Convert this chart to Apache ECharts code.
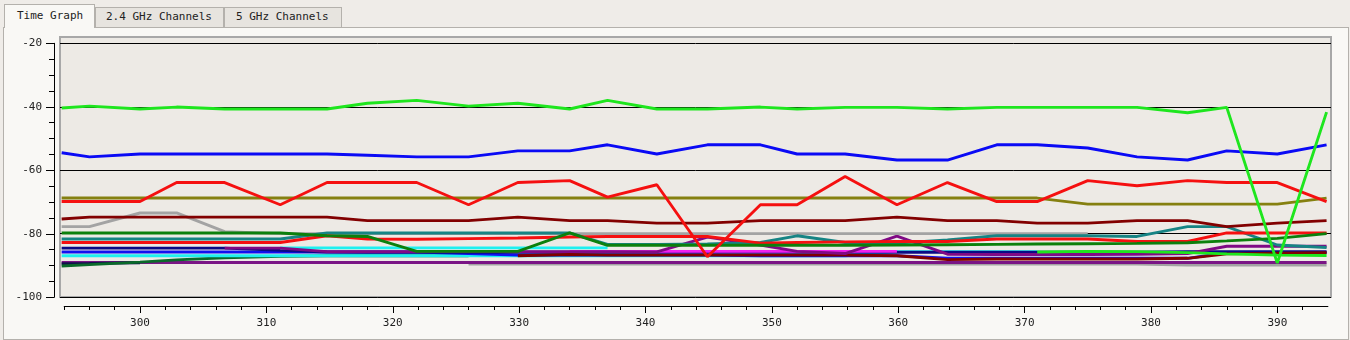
<!DOCTYPE html>
<html>
<head>
<meta charset="utf-8">
<script src="https://cdn.jsdelivr.net/npm/echarts@6/dist/echarts.min.js"></script>
<style>
  html, body { margin:0; padding:0; }
  body { width:1350px; height:340px; overflow:hidden; position:relative; background:#efece8; }
  #panel { position:absolute; left:3px; top:27px; width:1344px; height:311px; background:#f9f8f5; border:1px solid #b4b1ac; }
  .tab { position:absolute; box-sizing:border-box; font-family:"DejaVu Sans Mono", monospace; font-size:11px; color:#222; white-space:nowrap; border:1px solid #b4b1ac; }
  .tab.active { left:4px; top:4px; width:91px; height:24px; line-height:22px; padding-left:12px; background:#f9f8f5; border-bottom:none; z-index:2; }
  .tab.inactive { top:7px; height:20px; line-height:18px; background:#e7e4df; border-bottom:none; z-index:1; }
  #chart { position:absolute; left:0; top:0; width:1350px; height:340px; z-index:3; }
</style>
</head>
<body>
<div id="panel"></div>
<div class="tab active">Time Graph</div>
<div class="tab inactive" style="left:95px;width:129px;padding-left:10px;">2.4 GHz Channels</div>
<div class="tab inactive" style="left:224px;width:118px;padding-left:11px;">5 GHz Channels</div>
<div id="chart"></div>
<script>
// ---- data ----
const times = [293.8, 296.0, 300.0, 302.9, 306.7, 311.1, 314.8, 318.0, 321.9, 326.0, 329.9, 334.0, 337.0, 340.9, 344.9, 349.1, 352.0, 355.8, 359.9, 363.9, 367.8, 371.0, 375.0, 378.9, 382.9, 386.0, 390.0, 393.9];

const xTicks = [300, 310, 320, 330, 340, 350, 360, 370, 380, 390];
const yTicks = [-100, -80, -60, -40, -20];

const limeTop = [-40.4, -39.8, -40.7, -40.1, -40.7, -40.7, -40.7, -38.9, -38.0, -39.8, -38.9, -40.7, -38.0, -40.7, -40.7, -40.1, -40.7, -40.2, -40.2, -40.7, -40.2, -40.2, -40.2, -40.2, -41.9, -40.2, -89.3, -41.7];
const blueTop = [-54.5, -55.8, -54.9, -54.9, -54.9, -54.9, -54.9, -55.3, -55.8, -55.8, -53.9, -53.9, -52.0, -54.9, -52.0, -52.0, -54.9, -54.9, -56.8, -56.8, -52.0, -52.0, -53.0, -55.8, -56.8, -53.9, -54.9, -52.0];
const redTop = [-69.9, -69.9, -69.9, -63.9, -63.9, -70.9, -63.9, -63.9, -63.9, -70.9, -63.9, -63.3, -68.5, -64.6, -87.3, -70.9, -70.9, -62.0, -70.9, -63.9, -69.9, -69.9, -63.3, -64.9, -63.3, -63.9, -63.9, -69.9];
const olive = [-68.8, -68.8, -68.8, -68.8, -68.8, -68.8, -68.8, -68.8, -68.8, -68.8, -68.8, -68.8, -68.8, -68.8, -68.8, -68.8, -68.8, -68.8, -68.8, -68.8, -68.8, -68.8, -70.7, -70.7, -70.7, -70.7, -70.7, -68.8];
const maroon = [-75.4, -74.8, -74.8, -74.8, -74.8, -74.8, -74.8, -75.9, -75.9, -75.9, -74.8, -75.9, -75.9, -76.7, -76.7, -75.9, -75.9, -75.9, -74.8, -75.9, -75.9, -76.7, -76.7, -75.9, -75.9, -77.8, -76.7, -75.9];
const gray = [-77.8, -77.8, -73.5, -73.5, -79.4, -80.0, -80.0, -80.0, -80.0, -80.0, -80.0, -80.0, -80.0, -80.0, -80.0, -80.0, -80.0, -80.0, -80.0, -80.0, -80.0, -80.0, -80.0, null, null, null, null, null];
const green = [-79.8, -79.8, -79.8, -79.8, -79.8, -79.8, -80.7, -80.9, -85.6, -85.6, -85.6, -79.8, -83.7, -83.7, -83.7, -83.7, -83.7, -83.7, -83.6, -83.5, -83.4, -83.3, -83.2, -83.1, -82.9, -82.3, -81.5, -80.0];
const teal = [-81.7, -81.7, -81.7, -81.7, -81.7, -81.7, -79.8, -79.8, -79.8, -79.8, -79.8, -79.8, -83.4, -83.4, -83.3, -82.8, -80.7, -82.8, -83.0, -82.0, -80.7, -80.7, -80.7, -80.9, -77.8, -77.8, -83.6, -84.4];
const red2 = [-82.8, -82.8, -82.8, -82.8, -82.8, -82.8, -80.7, -81.7, -81.8, -81.6, -81.4, -81.1, -80.9, -80.9, -80.9, -83.0, -82.8, -82.6, -82.5, -82.5, -81.7, -81.7, -81.7, -82.5, -82.5, -79.8, -79.8, -79.8];
const navy = [-84.6, -84.6, -84.6, -84.6, -84.6, -85.3, -85.8, -85.9, -85.9, -85.9, -85.9, -85.9, -85.9, -85.9, -85.9, -85.9, -85.9, -85.9, -85.9, -85.9, -85.9, -85.9, -85.9, -85.9, -85.7, -85.7, -85.7, -85.7];
const blue2 = [-85.8, -85.8, -85.8, -85.8, -85.8, -85.8, -85.8, -85.8, -85.8, -86.3, -86.8, -86.8, -86.8, -86.8, -86.8, -87.0, -87.0, -87.0, -87.0, -87.8, -87.8, -87.8, -87.8, -87.8, -87.8, -86.0, -86.0, -86.0];
const cyan1 = [-87.0, -87.0, -87.0, -87.0, -87.0, -87.0, -87.0, -87.0, -87.0, -87.0, -87.0, -87.0, -87.0, -87.0, -87.0, -87.0, -87.0, -87.0, -85.7, -85.7, -85.7, -85.7, null, null, null, null, null, null];
const cyan2 = [null, null, null, null, null, -84.5, -84.5, -84.5, -84.5, -84.5, -84.5, -84.5, -84.5, null, null, null, null, null, null, null, null, null, null, null, null, null, null, null];
const magenta = [null, null, null, null, null, null, null, null, null, null, null, -85.6, -85.6, -85.6, -85.6, -85.6, -85.6, -85.6, -85.6, null, null, null, null, null, null, null, null, null];
const purpleMid = [null, null, null, null, -84.6, -84.6, -85.7, -85.7, -85.7, -85.7, -85.7, -85.7, -85.7, -85.8, -81.1, -83.6, -85.6, -86.3, -80.8, -86.5, -86.6, -86.6, -86.6, -86.5, -86.3, -84.0, -84.0, -84.0];
const purpleLow = [-89.1, -89.1, -89.1, -89.1, -89.1, -89.1, -89.1, -89.1, -89.1, -89.1, -89.1, -89.1, -89.1, -89.1, -89.1, -89.1, -89.1, -89.1, -89.1, -89.1, -89.1, -89.1, -89.1, -89.1, -89.1, -89.1, -89.1, -89.1];
const maroonLow = [null, null, null, null, null, null, null, null, null, null, -87.0, -86.6, -86.8, -86.8, -86.8, -86.8, -86.8, -86.8, -87.0, -88.2, -88.0, -88.0, -88.0, -88.0, -87.8, -86.4, -86.2, -86.0];
const grayLow = [null, null, null, null, null, null, null, null, null, -89.6, -89.6, -89.6, -89.6, -89.6, -89.6, -89.6, -89.6, -89.6, -89.6, -89.6, -89.6, -89.6, -89.6, -89.6, -89.9, -89.9, -89.9, -89.9];
const limeLow = [null, null, null, null, null, null, null, null, null, null, null, null, null, null, null, null, null, null, null, null, null, -85.8, -85.6, -85.7, -86.0, -86.4, -86.8, -86.9];
const greenLow = [-90.2, -89.8, -89.0, -88.3, -87.6, -87.2, -87.0, -87.0, -87.0, -87.0, null, null, null, null, null, null, null, null, null, null, null, null, null, null, null, null, null, null];
const navyLow = [-89.5, -89.4, -89.2, null, null, null, null, null, null, null, null, null, null, null, null, null, null, null, null, null, null, null, null, null, null, null, null, null];

// ---- chart ----
const minorX = [];
for (let v = 294; v <= 392; v += 2) minorX.push(v);

const font = { fontFamily: 'DejaVu Sans Mono', fontSize: 11, color: '#222' };

function mk(name, color, vals) {
  return {
    name: name, type: 'line', xAxisIndex: 0, yAxisIndex: 0,
    data: times.map((t, i) => [t, vals[i] === null ? '-' : vals[i]]),
    showSymbol: false, symbol: 'none', silent: true, connectNulls: false,
    lineStyle: { color: color, width: 2.9 }, itemStyle: { color: color }
  };
}

const series = [
  mk('grayLow', '#a3a3a3', grayLow),
  mk('purpleLow', '#7a1585', purpleLow),
  mk('navyLow', '#10104a', navyLow),
  mk('greenLow', '#0a6a2a', greenLow),
  mk('cyan1', '#1ef0f0', cyan1),
  mk('blue2', '#1010f0', blue2),
  mk('navy', '#0a0a85', navy),
  mk('cyan2', '#1ef0f0', cyan2),
  mk('magenta', '#f020f0', magenta),
  mk('maroonLow', '#800000', maroonLow),
  mk('purpleMid', '#800a85', purpleMid),
  mk('limeLow', '#1ee61e', limeLow),
  mk('gray', '#a3a3a3', gray),
  mk('teal', '#168484', teal),
  mk('red2', '#f51010', red2),
  mk('green', '#0c800c', green),
  mk('maroon', '#820000', maroon),
  mk('olive', '#858010', olive),
  mk('blueTop', '#0a0af5', blueTop),
  mk('redTop', '#f51010', redTop),
  mk('limeTop', '#1ee61e', limeTop)
];

const chart = echarts.init(document.getElementById('chart'), null, { renderer: 'canvas' });
chart.setOption({
  animation: false,
  backgroundColor: 'transparent',
  grid: [
    { left: 60, right: 19, top: 37, bottom: 43, show: true, backgroundColor: '#edeae5', borderColor: '#a8a8a8', borderWidth: 2 },
    { left: 54, width: 1, top: 43.3, bottom: 42.7 },
    { left: 64.2, right: 22.1, top: 305, bottom: 34 }
  ],
  xAxis: [
    { gridIndex: 0, type: 'value', min: 293.67, max: 394.25, show: false, splitLine: { show: false } },
    { gridIndex: 1, type: 'value', min: 0, max: 1, show: false, splitLine: { show: false } },
    { gridIndex: 2, type: 'value', min: 294, max: 394, position: 'bottom',
      axisLine: { show: true, lineStyle: { color: '#000', width: 1 } },
      axisTick: { show: true, length: 4, customValues: minorX, lineStyle: { color: '#000' } },
      axisLabel: { show: false }, splitLine: { show: false } },
    { gridIndex: 2, type: 'value', min: 294, max: 394, position: 'bottom',
      axisLine: { show: false },
      axisTick: { show: true, length: 7, customValues: xTicks, lineStyle: { color: '#000' } },
      axisLabel: Object.assign({ show: true, customValues: xTicks, margin: 12 }, font),
      splitLine: { show: false } }
  ],
  yAxis: [
    { gridIndex: 0, type: 'value', min: yTicks[0], max: -18, interval: 20,
      axisLine: { show: false }, axisTick: { show: false }, axisLabel: { show: false },
      splitLine: { show: true, showMaxLine: false, lineStyle: { color: '#000', width: 1 } } },
    { gridIndex: 1, type: 'value', min: yTicks[0], max: yTicks[yTicks.length - 1], interval: 20, position: 'left',
      axisLine: { show: true, lineStyle: { color: '#000', width: 1 } },
      axisTick: { show: true, length: 8, lineStyle: { color: '#000' } },
      minorTick: { show: true, splitNumber: 4, length: 5, lineStyle: { color: '#000' } },
      axisLabel: Object.assign({ show: true, margin: 12 }, font),
      splitLine: { show: false } },
    { gridIndex: 2, type: 'value', min: 0, max: 1, show: false, splitLine: { show: false } }
  ],
  series: series
});
</script>
</body>
</html>
